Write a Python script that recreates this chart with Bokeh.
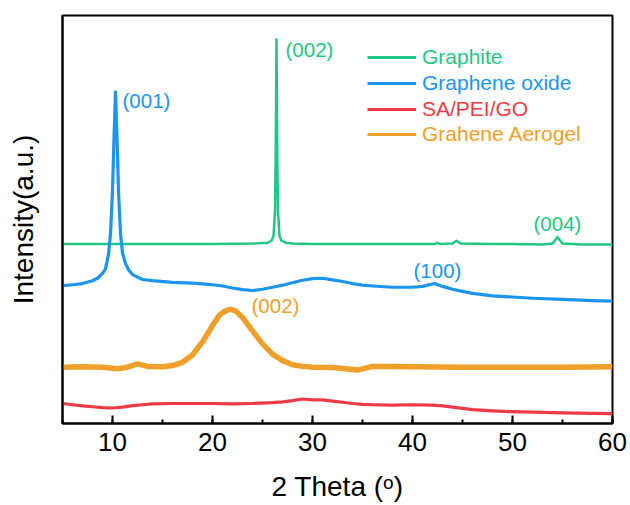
from bokeh.plotting import figure
from bokeh.models import (Range1d, SingleIntervalTicker, FixedTicker, Legend,
                          LegendItem, Label)
from bokeh.embed import file_html
from bokeh.resources import INLINE

FONT = "Liberation Sans"

# ---- data (offsets are part of the stacked plot) ----
graphite_x = [5, 10, 15, 20, 24, 25.5, 25.9, 26.1, 26.25, 26.32, 26.4, 26.48, 26.55,
              26.7, 26.9, 27.3, 28, 30, 35, 40, 42.3, 42.5, 42.7, 44, 44.4, 44.8, 48,
              53, 54.0, 54.3, 54.5, 54.7, 55.0, 57, 60]
graphite_y = [44.0, 44.0, 44.0, 44.0, 44.1, 44.3, 44.8, 46.0, 52.0, 65.0, 94.2, 65.0,
              52.0, 46.0, 44.8, 44.3, 44.1, 44.0, 44.0, 44.0, 44.0, 44.3, 44.0, 44.1,
              44.8, 44.1, 44.0, 43.9, 44.1, 45.0, 45.7, 45.0, 44.1, 43.9, 43.9]

go_x = [5, 6, 7, 8, 8.5, 9, 9.3, 9.6, 9.8, 10.0, 10.15, 10.3, 10.45, 10.6, 10.8, 11.0,
        11.3, 11.6, 12, 13, 14, 16, 18, 19, 20, 21, 22, 23, 24, 25, 26, 27, 28, 29, 30,
        31, 32, 33, 34, 35, 36, 38, 40, 41, 42.2, 43, 44, 45, 46, 48, 50, 52, 55, 58, 60]
go_y = [33.8, 34.0, 34.3, 35.0, 35.6, 36.8, 37.9, 41.5, 46.5, 57.0, 70.0, 81.3, 70.0,
        57.0, 46.5, 41.8, 39.2, 37.7, 36.5, 35.3, 35.0, 34.6, 34.4, 34.2, 34.0, 33.7,
        33.2, 32.8, 32.6, 32.9, 33.4, 33.9, 34.5, 35.1, 35.5, 35.6, 35.2, 34.8, 34.3,
        33.9, 33.7, 33.4, 33.4, 33.6, 34.3, 33.6, 32.9, 32.4, 31.9, 31.3, 31.0, 30.7,
        30.4, 30.1, 30.0]

sa_x = [5, 6, 7, 8, 9, 10, 11, 12, 13, 14, 16, 18, 20, 22, 24, 26, 27, 28, 29, 30, 31,
        32, 33, 34, 35, 36, 38, 40, 42, 43, 44, 45, 46, 48, 50, 52, 55, 58, 60]
sa_y = [4.9, 4.6, 4.3, 4.1, 3.9, 3.8, 4.0, 4.4, 4.6, 4.8, 4.9, 4.9, 4.9, 4.8, 4.9, 5.1,
        5.3, 5.6, 6.0, 5.8, 5.8, 5.5, 5.2, 4.9, 4.7, 4.6, 4.5, 4.6, 4.5, 4.3, 4.0, 3.7,
        3.4, 3.1, 2.9, 2.8, 2.6, 2.5, 2.4]

ga_x = [5, 7, 9, 10.5, 11.5, 12.5, 13.5, 15, 16, 17, 18, 19, 20, 20.7, 21.3, 21.8, 22.3,
        23, 24, 25, 26, 27, 28, 29, 30, 32, 33, 34.5, 36, 38, 40, 45, 50, 55, 60]
ga_y = [13.8, 13.9, 13.8, 13.4, 13.8, 14.6, 14.0, 13.9, 14.2, 15.0, 16.8, 20.0, 24.0,
        26.6, 27.6, 28.0, 27.6, 26.0, 22.7, 19.5, 17.0, 15.4, 14.4, 14.0, 13.8, 13.7,
        13.5, 13.1, 14.0, 14.0, 13.9, 13.8, 13.8, 13.8, 13.9]

series_names = ["Graphite", "Graphene oxide", "SA/PEI/GO", "Grahene Aerogel"]

peak_labels = ["(002)", "(001)", "(004)", "(100)", "(002)"]
peak_label_x = [27.3, 11.0, 52.1, 40.1, 23.9]
peak_label_y = [91.7, 79.2, 49.0, 37.5, 28.9]

# ---- styles ----
C_GREEN = "#1fc785"
C_BLUE = "#1b95ef"
C_RED = "#ec3b45"
C_ORANGE = "#f0a02a"

p = figure(width=630, height=505, output_backend="svg", toolbar_location=None,
           x_range=Range1d(5, 60), y_range=Range1d(0, 100),
           min_border_left=62, min_border_right=18, min_border_top=15,
           min_border_bottom=82)
p.grid.visible = False
p.outline_line_color = "black"
p.outline_line_width = 2
p.background_fill_color = "white"
p.border_fill_color = "white"

p.line(graphite_x, graphite_y, line_color=C_GREEN, line_width=2.5, line_join="round")
p.line(go_x, go_y, line_color=C_BLUE, line_width=3.2, line_join="round")
p.line(sa_x, sa_y, line_color=C_RED, line_width=3.2, line_join="round")
p.line(ga_x, ga_y, line_color=C_ORANGE, line_width=5.5, line_join="round")

xa = p.xaxis[0]
xa.ticker = SingleIntervalTicker(interval=10, num_minor_ticks=2)
xa.major_tick_in = 8
xa.major_tick_out = 0
xa.minor_tick_in = 4
xa.minor_tick_out = 0
xa.major_tick_line_width = 2
xa.minor_tick_line_width = 2
xa.major_tick_line_color = "black"
xa.minor_tick_line_color = "black"
xa.axis_line_width = 2
xa.axis_line_color = "black"
xa.major_label_text_font = FONT
xa.major_label_text_font_size = "26px"
xa.major_label_text_color = "black"
xa.major_label_standoff = 9
xa.axis_label = "2 Theta (\u1d52)"
xa.axis_label_text_font = FONT
xa.axis_label_text_font_size = "28px"
xa.axis_label_text_font_style = "normal"
xa.axis_label_text_color = "black"
xa.axis_label_standoff = 17

ya = p.yaxis[0]
ya.ticker = FixedTicker(ticks=[])
ya.major_tick_in = 0
ya.major_tick_out = 0
ya.minor_tick_in = 0
ya.minor_tick_out = 0
ya.axis_line_width = 2
ya.axis_line_color = "black"
ya.major_label_standoff = 0
ya.axis_label = "Intensity(a.u.)"
ya.axis_label_text_font = FONT
ya.axis_label_text_font_size = "28px"
ya.axis_label_text_font_style = "normal"
ya.axis_label_text_color = "black"
ya.axis_label_standoff = 24

# legend: one legend per entry so every label keeps its own colour;
# off-screen (NaN) proxy renderers give all legend strokes the same thin width
colors = [C_GREEN, C_BLUE, C_RED, C_ORANGE]
leg_y = [354, 328, 302, 277]
nan = float("nan")
for name, col, ly in zip(series_names, colors, leg_y):
    proxy = p.line([nan], [nan], line_color=col, line_width=3)
    lg = Legend(items=[LegendItem(label=name, renderers=[proxy])],
                location=(305, ly), background_fill_alpha=0, border_line_alpha=0,
                padding=0, margin=0, glyph_width=49, glyph_height=24, label_height=24,
                label_standoff=6, label_text_font=FONT, label_text_font_size="21px",
                label_text_color=col, label_text_baseline="middle")
    p.add_layout(lg)

label_colors = [C_GREEN, C_BLUE, C_GREEN, C_BLUE, C_ORANGE]
for t, lx, ly, col in zip(peak_labels, peak_label_x, peak_label_y, label_colors):
    p.add_layout(Label(x=lx, y=ly, text=t, text_color=col, text_font=FONT,
                       text_font_size="20.5px", text_baseline="middle", text_align="left"))

open("out.html", "w").write(file_html(p, INLINE))
